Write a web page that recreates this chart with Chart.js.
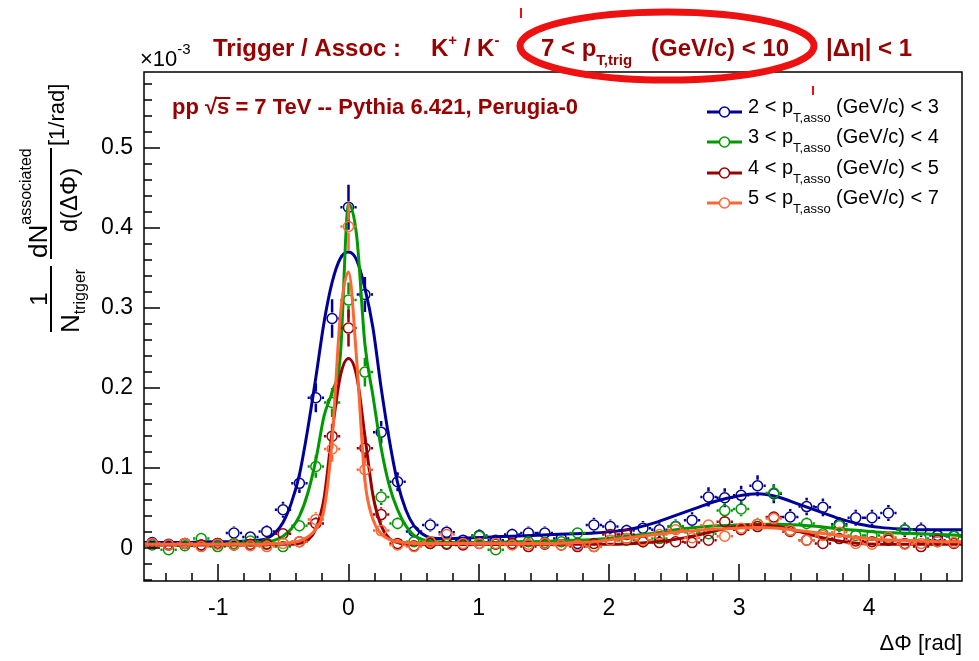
<!doctype html>
<html>
<head>
<meta charset="utf-8">
<title>K+/K- triggered azimuthal correlation</title>
<script src="https://cdn.jsdelivr.net/npm/chart.js@4.4.0/dist/chart.umd.min.js"></script>
<style>
  html, body { margin: 0; padding: 0; background: #fff; }
  canvas { display: block; }
</style>
</head>
<body>
<canvas id="canvas" width="979" height="661"></canvas>
<script>
var FONT = '"Liberation Sans", Arial, Helvetica, sans-serif';
var TITLE_RED = '#990000';

// bin centres of the dPhi histograms, 50 bins over [-pi/2, 3pi/2]
var dphi = [
  -1.508, -1.382, -1.257, -1.131, -1.005, -0.880, -0.754, -0.628, -0.503, -0.377,
  -0.251, -0.126,  0.000,  0.126,  0.251,  0.377,  0.503,  0.628,  0.754,  0.880,
   1.005,  1.131,  1.257,  1.382,  1.508,  1.634,  1.759,  1.885,  2.011,  2.136,
   2.262,  2.388,  2.513,  2.639,  2.765,  2.890,  3.016,  3.142,  3.267,  3.393,
   3.519,  3.644,  3.770,  3.896,  4.021,  4.147,  4.273,  4.398,  4.524,  4.650
];
var binHalf = 0.0628;

// per-trigger yields (x 1e-3) and their errors
var yield_2_3 = [
  0.007, 0.004, 0.006, 0.004, 0.006, 0.019, 0.014, 0.021, 0.048, 0.081,
  0.188, 0.287, 0.426, 0.317, 0.145, 0.083, 0.021, 0.029, 0.020, 0.010,
  0.016, 0.010, 0.017, 0.019, 0.019, 0.012, 0.006, 0.029, 0.027, 0.022,
  0.025, 0.023, 0.027, 0.035, 0.064, 0.063, 0.066, 0.078, 0.068, 0.039,
  0.052, 0.051, 0.030, 0.038, 0.038, 0.044, 0.023, 0.023, 0.016, 0.015
];
var err_2_3 = [
  0.006, 0.006, 0.006, 0.006, 0.006, 0.008, 0.007, 0.008, 0.010, 0.012,
  0.018, 0.024, 0.028, 0.022, 0.014, 0.012, 0.008, 0.008, 0.008, 0.007,
  0.008, 0.007, 0.008, 0.008, 0.008, 0.007, 0.007, 0.009, 0.009, 0.008,
  0.009, 0.009, 0.009, 0.010, 0.012, 0.012, 0.012, 0.013, 0.012, 0.010,
  0.011, 0.011, 0.009, 0.010, 0.010, 0.010, 0.009, 0.009, 0.008, 0.008
];
var yield_3_4 = [
  0.004, -0.002, 0.003, 0.012, 0.002, 0.006, 0.009, 0.006, 0.002, 0.028,
  0.102, 0.182, 0.310, 0.220, 0.064, 0.031, 0.008, 0.006, 0.006, 0.005,
  0.015, -0.002, 0.005, 0.008, 0.007, 0.008, 0.019, 0.002, 0.010, 0.010,
  0.008, 0.012, 0.027, 0.020, 0.018, 0.047, 0.049, 0.030, 0.069, 0.022,
  0.031, 0.018, 0.028, 0.016, 0.016, 0.012, 0.023, 0.012, 0.008, 0.015
];
var err_3_4 = [
  0.005, 0.005, 0.005, 0.006, 0.005, 0.005, 0.005, 0.005, 0.005, 0.008,
  0.014, 0.018, 0.022, 0.018, 0.010, 0.008, 0.005, 0.005, 0.005, 0.005,
  0.006, 0.005, 0.005, 0.005, 0.005, 0.005, 0.006, 0.005, 0.006, 0.006,
  0.006, 0.006, 0.007, 0.007, 0.007, 0.009, 0.009, 0.008, 0.010, 0.007,
  0.008, 0.007, 0.008, 0.006, 0.006, 0.006, 0.007, 0.006, 0.006, 0.006
];
var yield_4_5 = [
  0.006, 0.005, 0.006, 0.004, 0.006, 0.004, 0.005, 0.005, 0.018, 0.008,
  0.031, 0.140, 0.275, 0.125, 0.042, 0.006, 0.003, 0.006, 0.005, 0.004,
  0.006, 0.005, 0.006, 0.002, 0.005, 0.004, 0.002, 0.006, 0.017, 0.017,
  0.008, 0.007, 0.008, 0.007, 0.010, 0.033, 0.023, 0.027, 0.039, 0.021,
  0.010, 0.006, 0.012, 0.009, 0.008, 0.010, 0.006, 0.002, 0.010, 0.006
];
var err_4_5 = [
  0.004, 0.004, 0.004, 0.004, 0.004, 0.004, 0.004, 0.004, 0.006, 0.005,
  0.008, 0.015, 0.023, 0.015, 0.009, 0.004, 0.004, 0.004, 0.004, 0.004,
  0.004, 0.004, 0.004, 0.004, 0.004, 0.004, 0.004, 0.004, 0.006, 0.006,
  0.005, 0.005, 0.005, 0.005, 0.005, 0.007, 0.006, 0.006, 0.007, 0.006,
  0.005, 0.004, 0.005, 0.005, 0.005, 0.005, 0.004, 0.004, 0.005, 0.004
];
var yield_5_7 = [
  0.006, 0.004, 0.006, 0.002, 0.005, 0.004, 0.003, 0.002, 0.006, 0.008,
  0.036, 0.124, 0.402, 0.098, 0.022, 0.004, 0.002, 0.008, 0.017, 0.006,
  0.006, 0.006, 0.004, 0.005, 0.006, 0.004, 0.004, 0.002, 0.010, 0.012,
  0.010, 0.017, 0.023, 0.013, 0.029, 0.015, 0.025, 0.030, 0.037, 0.022,
  0.010, 0.016, 0.020, 0.006, 0.005, 0.014, 0.005, 0.006, 0.008, 0.007
];
var err_5_7 = [
  0.004, 0.004, 0.004, 0.004, 0.004, 0.004, 0.004, 0.004, 0.004, 0.004,
  0.009, 0.016, 0.030, 0.015, 0.007, 0.004, 0.004, 0.004, 0.006, 0.004,
  0.004, 0.004, 0.004, 0.004, 0.004, 0.004, 0.004, 0.004, 0.005, 0.005,
  0.005, 0.006, 0.006, 0.005, 0.006, 0.005, 0.006, 0.006, 0.007, 0.006,
  0.005, 0.005, 0.006, 0.004, 0.004, 0.005, 0.004, 0.004, 0.004, 0.004
];

// fit curves, sampled along dPhi
var fit_dphi = [
  -1.571, -1.414, -1.257, -1.100, -0.942, -0.785, -0.691, -0.628, -0.565, -0.503, -0.440,
  -0.377, -0.314, -0.251, -0.188, -0.126, -0.063,  0.000,  0.063,  0.126,  0.188,  0.251,
   0.314,  0.377,  0.440,  0.503,  0.565,  0.628,  0.691,  0.785,  0.942,  1.100,  1.257,
   1.414,  1.571,  1.728,  1.885,  2.042,  2.199,  2.356,  2.513,  2.670,  2.827,  2.985,
   3.142,  3.299,  3.456,  3.613,  3.770,  3.927,  4.084,  4.241,  4.398,  4.555,  4.712
];
var fit_2_3 = [
  0.007, 0.007, 0.007, 0.008, 0.008, 0.009, 0.010, 0.012, 0.019, 0.032, 0.056,
  0.092, 0.148, 0.213, 0.282, 0.332, 0.362, 0.370, 0.360, 0.325, 0.275, 0.200,
  0.135, 0.082, 0.048, 0.028, 0.018, 0.013, 0.012, 0.012, 0.013, 0.014, 0.015,
  0.016, 0.017, 0.018, 0.019, 0.021, 0.025, 0.032, 0.041, 0.050, 0.059, 0.065,
  0.068, 0.064, 0.055, 0.046, 0.037, 0.030, 0.026, 0.024, 0.023, 0.023, 0.023
];
var fit_3_4 = [
  0.005, 0.005, 0.005, 0.005, 0.006, 0.006, 0.007, 0.008, 0.010, 0.015, 0.024,
  0.040, 0.068, 0.110, 0.165, 0.195, 0.240, 0.430, 0.390, 0.255, 0.190, 0.125,
  0.078, 0.048, 0.028, 0.016, 0.011, 0.009, 0.008, 0.007, 0.007, 0.007, 0.008,
  0.008, 0.009, 0.010, 0.011, 0.013, 0.016, 0.019, 0.023, 0.026, 0.028, 0.029,
  0.030, 0.030, 0.029, 0.027, 0.024, 0.022, 0.020, 0.019, 0.018, 0.017, 0.016
];
var fit_4_5 = [
  0.004, 0.004, 0.004, 0.004, 0.004, 0.004, 0.004, 0.004, 0.005, 0.005, 0.005,
  0.006, 0.010, 0.024, 0.062, 0.145, 0.215, 0.237, 0.215, 0.140, 0.066, 0.028,
  0.012, 0.007, 0.005, 0.005, 0.005, 0.005, 0.005, 0.005, 0.005, 0.005, 0.005,
  0.005, 0.005, 0.005, 0.005, 0.005, 0.006, 0.008, 0.011, 0.016, 0.022, 0.027,
  0.029, 0.027, 0.021, 0.014, 0.009, 0.006, 0.005, 0.005, 0.005, 0.005, 0.005
];
var fit_5_7 = [
  0.005, 0.005, 0.005, 0.005, 0.005, 0.005, 0.005, 0.005, 0.006, 0.006, 0.007,
  0.009, 0.014, 0.024, 0.048, 0.135, 0.290, 0.345, 0.235, 0.085, 0.036, 0.018,
  0.011, 0.008, 0.007, 0.006, 0.006, 0.006, 0.006, 0.006, 0.006, 0.006, 0.006,
  0.006, 0.006, 0.007, 0.008, 0.011, 0.014, 0.017, 0.020, 0.022, 0.024, 0.025,
  0.026, 0.025, 0.022, 0.019, 0.016, 0.013, 0.011, 0.010, 0.009, 0.008, 0.008
];

var xTicks = [-1, 0, 1, 2, 3, 4];
var yTicks = [0, 0.1, 0.2, 0.3, 0.4, 0.5];

var series = [
  { lo: '2', hi: '3', color: '#000099', y: yield_2_3, err: err_2_3, fit: fit_2_3 },
  { lo: '3', hi: '4', color: '#009900', y: yield_3_4, err: err_3_4, fit: fit_3_4 },
  { lo: '4', hi: '5', color: '#990000', y: yield_4_5, err: err_4_5, fit: fit_4_5 },
  { lo: '5', hi: '7', color: '#ff6633', y: yield_5_7, err: err_5_7, fit: fit_5_7 }
];

// later series go on top: lower "order" is drawn last
var datasets = [];
var order = 100;
series.forEach(function(s) {
  datasets.push({
    label: s.lo + ' < pT,asso (GeV/c) < ' + s.hi,
    data: dphi.map(function(x, k) { return { x: x, y: s.y[k] }; }),
    errors: s.err,
    showLine: false,
    pointStyle: 'circle',
    pointRadius: 5,
    pointBorderWidth: 1.5,
    pointBorderColor: s.color,
    pointBackgroundColor: 'rgba(255,255,255,0)',
    order: order--
  });
  datasets.push({
    label: 'fit ' + s.lo + '-' + s.hi,
    data: fit_dphi.map(function(x, k) { return { x: x, y: s.fit[k] }; }),
    showLine: true,
    borderColor: s.color,
    borderWidth: 3,
    pointRadius: 0,
    fill: false,
    cubicInterpolationMode: 'monotone',
    order: order--
  });
});

// vertical stat errors and horizontal bin widths, stopped at the marker edge
var errorBars = {
  id: 'errorBars',
  beforeDatasetDraw: function(chart, args) {
    var ds = chart.data.datasets[args.index];
    if (!ds.errors) return;
    var ctx = chart.ctx, xs = chart.scales.x, ys = chart.scales.y, a = chart.chartArea;
    var r = 6;
    ctx.save();
    ctx.beginPath();
    ctx.rect(a.left, a.top, a.right - a.left, a.bottom - a.top);
    ctx.clip();
    ctx.strokeStyle = ds.pointBorderColor;
    ctx.lineWidth = 2.5;
    ctx.beginPath();
    ds.data.forEach(function(p, k) {
      var px = xs.getPixelForValue(p.x), py = ys.getPixelForValue(p.y);
      var up = ys.getPixelForValue(p.y + ds.errors[k]);
      var dn = ys.getPixelForValue(p.y - ds.errors[k]);
      var l = xs.getPixelForValue(p.x - binHalf), rr = xs.getPixelForValue(p.x + binHalf);
      if (py - up > r) { ctx.moveTo(px, up); ctx.lineTo(px, py - r); }
      if (dn - py > r) { ctx.moveTo(px, py + r); ctx.lineTo(px, dn); }
      ctx.moveTo(l, py); ctx.lineTo(px - r, py);
      ctx.moveTo(px + r, py); ctx.lineTo(rr, py);
    });
    ctx.stroke();
    ctx.restore();
  }
};

// draw a row of text pieces, each with its own font and vertical shift
function textRun(ctx, x, y, parts) {
  parts.forEach(function(p) {
    if (p.x !== undefined) x = p.x;
    ctx.font = p.f;
    ctx.fillText(p.t, x, y + (p.dy || 0));
    x += ctx.measureText(p.t).width;
  });
  return x;
}

// text rotated to read bottom-to-top, starting at (x, y)
function upText(ctx, str, font, x, y, align) {
  ctx.save();
  ctx.translate(x, y);
  ctx.rotate(-Math.PI / 2);
  ctx.font = font;
  ctx.textAlign = align || 'left';
  ctx.fillText(str, 0, 0);
  var w = ctx.measureText(str).width;
  ctx.restore();
  return w;
}

var decorations = {
  id: 'decorations',
  afterDraw: function(chart) {
    var ctx = chart.ctx, a = chart.chartArea, xs = chart.scales.x, ys = chart.scales.y;
    ctx.save();

    // frame and inward ticks
    ctx.strokeStyle = '#000';
    ctx.lineWidth = 1.5;
    ctx.strokeRect(a.left, a.top, a.right - a.left, a.bottom - a.top);
    ctx.beginPath();
    for (var i = -7; i <= 23; i++) {
      var px = Math.round(xs.getPixelForValue(i * 0.2));
      var lx = (i % 5 === 0) ? 17 : 8;
      ctx.moveTo(px, a.bottom); ctx.lineTo(px, a.bottom - lx);
    }
    for (var j = -2; j <= 29; j++) {
      var py = Math.round(ys.getPixelForValue(j * 0.02));
      var ly = (j % 5 === 0) ? 16 : 8;
      ctx.moveTo(a.left, py); ctx.lineTo(a.left + ly, py);
    }
    ctx.stroke();

    ctx.textBaseline = 'alphabetic';
    ctx.textAlign = 'left';

    // exponent of the y axis
    ctx.fillStyle = '#000';
    textRun(ctx, 140, 66, [
      { t: '\u00d710', f: '22px ' + FONT },
      { t: '-3', f: '15px ' + FONT, dy: -12 }
    ]);

    // title
    ctx.fillStyle = TITLE_RED;
    var B = 'bold 24px ' + FONT, Bs = 'bold 15px ' + FONT;
    textRun(ctx, 213, 56, [
      { t: 'Trigger / Assoc :', f: B },
      { x: 431, t: 'K', f: B },
      { t: '+', f: Bs, dy: -11 },
      { t: ' / K', f: B },
      { t: '-', f: Bs, dy: -11 },
      { x: 541, t: '7 < p', f: B },
      { t: 'T,trig', f: Bs, dy: 9 },
      { x: 651, t: '(GeV/c) < 10', f: B },
      { x: 826, t: '|\u0394\u03b7| < 1', f: B }
    ]);

    // generator label
    var G = 'bold 22px ' + FONT;
    var sx = textRun(ctx, 172, 114, [{ t: 'pp \u221a', f: G }]);
    ctx.font = G;
    var sw = ctx.measureText('s').width;
    ctx.fillRect(sx - 2, 97, sw + 3, 2);
    textRun(ctx, sx, 114, [{ t: 's = 7 TeV -- Pythia 6.421, Perugia-0', f: G }]);

    // legend
    var rows = [112, 142, 173, 203];
    series.forEach(function(s, k) {
      var yl = rows[k];
      ctx.strokeStyle = s.color;
      ctx.lineWidth = 3;
      ctx.beginPath();
      ctx.moveTo(707, yl); ctx.lineTo(742, yl);
      ctx.stroke();
      ctx.lineWidth = 1.5;
      ctx.fillStyle = '#fff';
      ctx.beginPath();
      ctx.arc(724.5, yl, 5, 0, 2 * Math.PI);
      ctx.fill();
      ctx.stroke();
      ctx.fillStyle = '#000';
      textRun(ctx, 748, yl + 1, [
        { t: s.lo + ' < p', f: '20px ' + FONT },
        { t: 'T,asso', f: '13px ' + FONT, dy: 9 },
        { x: 836, t: '(GeV/c) < ' + s.hi, f: '20px ' + FONT }
      ]);
    });

    // x axis title
    ctx.fillStyle = '#000';
    ctx.font = '22px ' + FONT;
    ctx.textAlign = 'right';
    ctx.fillText('\u0394\u03a6 [rad]', 962, 650);
    ctx.textAlign = 'left';

    // y axis title: 1/N_trigger dN_associated/d(dPhi) [1/rad]
    upText(ctx, '1', '24px ' + FONT, 47, 299, 'center');
    ctx.fillRect(50, 266, 2, 66);
    var wN = upText(ctx, 'N', '26px ' + FONT, 79, 333);
    upText(ctx, 'trigger', '16px ' + FONT, 85, 333 - wN);
    var wdN = upText(ctx, 'dN', '26px ' + FONT, 47, 258);
    upText(ctx, 'associated', '16px ' + FONT, 31, 258 - wdN);
    ctx.fillRect(50, 148, 2, 111);
    upText(ctx, 'd(\u0394\u03a6)', '24px ' + FONT, 77, 200, 'center');
    upText(ctx, '[1/rad]', '22px ' + FONT, 64, 146);

    // red marker ellipse around the trigger window
    ctx.strokeStyle = '#ee1111';
    ctx.lineWidth = 7;
    ctx.beginPath();
    ctx.ellipse(667, 46, 147, 34, 0, 0, 2 * Math.PI);
    ctx.stroke();
    ctx.fillStyle = '#ee1111';
    ctx.fillRect(520, 8, 2, 10);
    ctx.fillRect(812, 86, 2, 9);

    ctx.restore();
  }
};

var config = {
  type: 'scatter',
  data: { datasets: datasets },
  options: {
    responsive: false,
    animation: false,
    devicePixelRatio: 1,
    layout: { padding: { top: 72, right: 17, left: 0, bottom: 0 } },
    plugins: { legend: { display: false }, tooltip: { enabled: false } },
    scales: {
      x: {
        type: 'linear',
        min: -1.5708,
        max: 4.7124,
        grid: { display: false, drawTicks: false },
        border: { display: false },
        afterBuildTicks: function(scale) {
          scale.ticks = xTicks.map(function(v) { return { value: v }; });
        },
        afterFit: function(scale) { scale.height = 80; },
        ticks: {
          color: '#000',
          padding: 14,
          maxRotation: 0,
          font: { family: FONT, size: 23 },
          callback: function(v) { return String(v); }
        }
      },
      y: {
        type: 'linear',
        min: -0.041,
        max: 0.595,
        grid: { display: false, drawTicks: false },
        border: { display: false },
        afterBuildTicks: function(scale) {
          scale.ticks = yTicks.map(function(v) { return { value: v }; });
        },
        afterFit: function(scale) { scale.width = 144; },
        ticks: {
          color: '#000',
          padding: 11,
          font: { family: FONT, size: 23 },
          callback: function(v) { return v === 0 ? '0' : v.toFixed(1); }
        }
      }
    }
  },
  plugins: [errorBars, decorations]
};

window.onload = function() {
  window.myChart = new Chart(document.getElementById('canvas'), config);
};
</script>
</body>
</html>
